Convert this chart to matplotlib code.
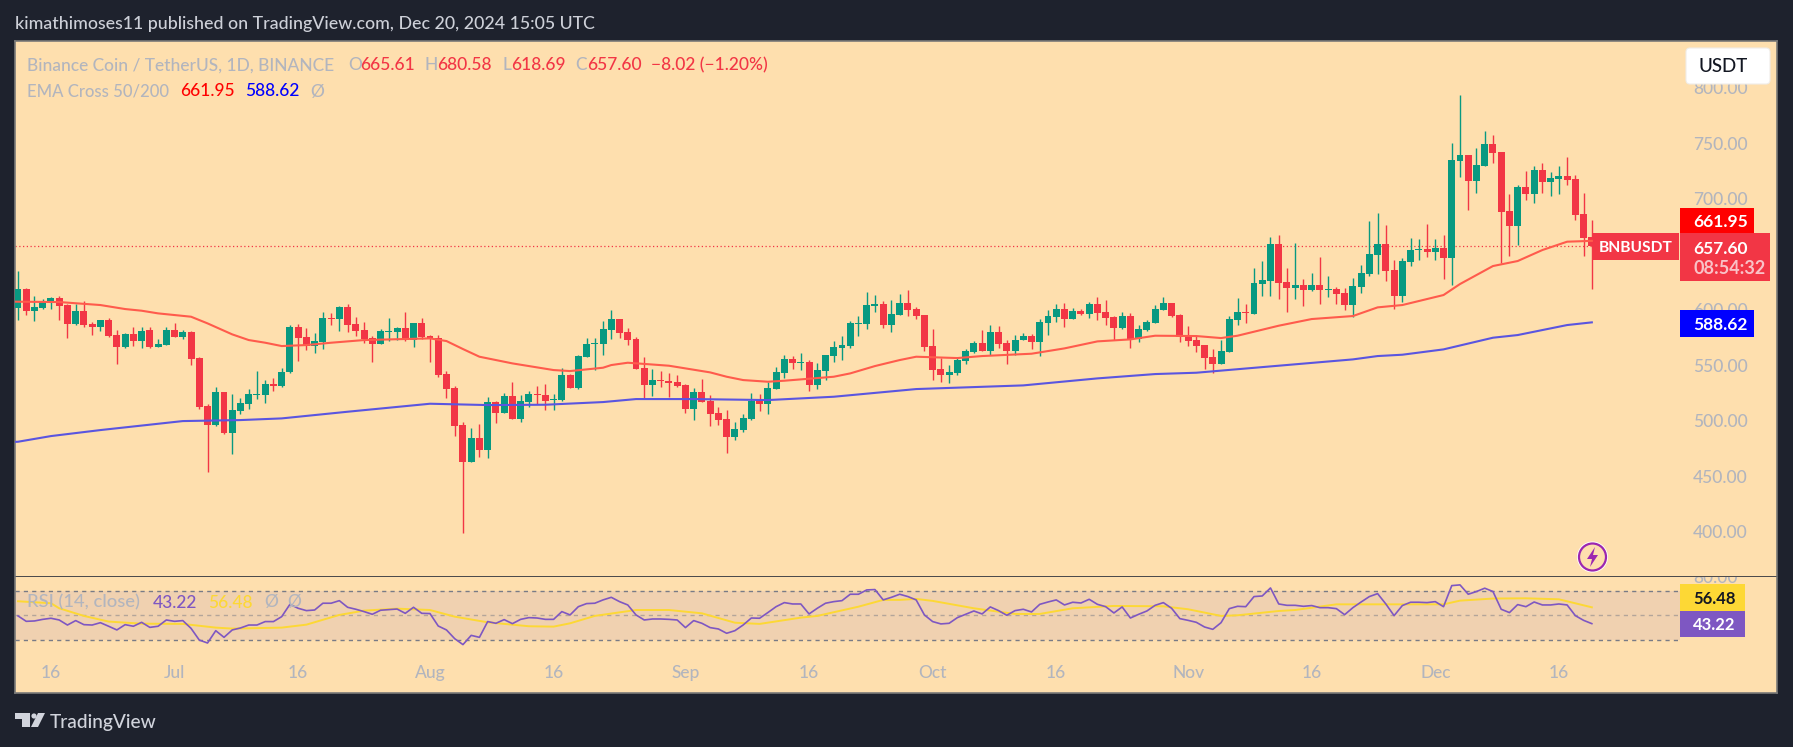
import numpy as np
import matplotlib
matplotlib.use("Agg")
import matplotlib.pyplot as plt
from matplotlib.patches import Rectangle, FancyBboxPatch, Circle, Polygon
from matplotlib.transforms import IdentityTransform

W = 1793; H = 747
FONT = "Lato"
plt.rcParams['font.family'] = [FONT, 'DejaVu Sans']
plt.rcParams['font.weight'] = 500

# Daily candles, first one is Jun 12 2024
opens = [601.5,618.6,598.8,601.5,606.9,610.5,604.2,587.1,598.8,587.1,
    584.4,590.7,577.2,566.4,578.1,571.8,581.7,566.4,568.2,581.7,
    575.4,579.9,556.5,513.3,496.2,525.9,489.0,508.8,515.1,523.2,
    523.2,533.1,531.3,543.9,584.4,575.4,567.3,570.9,592.5,591.6,
    602.4,587.1,581.7,574.5,569.1,579.9,579.9,583.5,572.7,588.0,
    576.3,574.5,542.1,529.5,496.2,462.9,484.5,473.7,516.9,507.0,
    522.3,501.6,516.9,524.1,523.2,518.7,518.7,541.2,529.5,557.4,
    569.1,569.1,581.7,591.6,579.9,573.6,547.5,532.2,536.7,535.8,
    534.9,532.2,510.6,525.9,517.8,507.0,501.6,485.4,491.7,501.6,
    517.8,515.1,528.6,543.0,555.6,552.0,552.9,532.2,544.8,558.3,
    565.5,567.3,587.1,587.1,603.3,605.1,586.2,595.2,606.0,600.6,
    595.2,567.3,546.6,541.2,543.0,553.8,561.9,570.0,562.8,579.9,
    570.0,562.8,572.7,576.3,570.9,588.0,593.4,600.6,591.6,598.8,
    596.1,605.1,597.9,593.4,583.5,594.3,573.6,581.7,588.0,599.7,
    606.0,595.2,576.3,572.7,568.2,557.4,551.1,561.9,590.7,597.9,
    596.1,623.1,625.8,659.1,624.9,619.5,622.2,617.7,622.2,617.7,
    618.6,615.0,604.2,620.4,632.1,649.2,659.1,635.7,612.3,642.9,
    653.7,654.6,651.9,655.5,646.5,733.8,739.2,715.8,729.3,749.1,
    741.9,688.8,675.3,710.4,704.1,725.7,714.9,717.6,720.3,717.6,686.1,665.61]
highs = [634.8,619.5,612.3,609.6,611.4,612.3,605.1,605.1,607.8,588.9,
    590.7,592.5,581.7,579.0,584.4,584.4,584.4,573.6,584.4,588.0,
    581.7,580.8,557.4,515.1,530.4,525.9,524.1,520.5,528.6,544.8,
    536.7,538.5,547.5,586.2,587.1,583.5,579.0,597.9,597.0,603.3,
    605.1,593.4,588.9,576.3,582.6,592.5,584.4,597.9,588.0,592.5,
    577.2,577.2,544.8,531.3,498.9,493.5,497.1,521.4,517.8,525.0,
    534.9,523.2,526.8,531.3,533.1,524.1,547.5,542.1,559.2,574.5,
    574.5,589.8,599.7,591.6,583.5,575.4,557.4,546.6,544.8,543.0,
    541.2,533.1,529.5,537.6,523.2,512.4,509.7,498.9,506.1,525.0,
    524.1,534.9,548.4,559.2,558.3,561.0,554.7,552.0,559.2,571.8,
    576.3,589.8,594.3,615.9,613.2,607.8,608.7,614.1,617.7,602.4,
    595.2,582.6,556.5,550.2,557.4,564.6,571.8,581.7,586.2,585.3,
    572.7,577.2,579.0,578.1,591.6,599.7,605.1,606.0,601.5,600.6,
    606.9,611.4,608.7,594.3,597.9,597.0,586.2,590.7,604.2,611.4,
    606.0,596.1,585.3,576.3,568.2,564.6,572.7,594.3,610.5,605.1,
    637.5,643.8,665.4,667.2,637.5,660.0,627.6,633.0,647.4,630.3,
    620.4,619.5,628.5,640.2,679.8,687.0,676.2,644.7,646.5,664.5,
    663.6,677.1,663.6,667.2,750.0,793.2,739.2,745.5,760.8,757.2,
    741.9,704.1,712.2,724.8,729.3,732.0,723.9,729.3,737.4,721.2,705.0,680.58]
lows = [590.7,595.2,589.8,600.6,600.6,590.7,574.5,586.2,584.4,577.2,
    580.8,575.4,551.1,565.5,567.3,565.5,565.5,566.4,568.2,575.4,
    573.6,550.2,510.6,453.9,495.3,488.1,470.1,506.1,510.6,519.6,
    516.0,526.8,530.4,543.0,553.8,563.7,561.0,564.6,586.2,580.8,
    579.9,576.3,570.0,552.9,569.1,571.8,572.7,571.8,566.4,573.6,
    552.9,539.4,520.5,486.3,399.0,462.9,467.4,466.5,498.0,507.0,
    501.6,498.9,512.4,515.1,509.7,509.7,517.8,529.5,528.6,557.4,
    545.7,559.2,573.6,574.5,568.2,546.6,519.6,522.3,530.4,521.4,
    530.4,507.0,500.7,516.9,495.3,496.2,471.0,482.7,489.9,500.7,
    508.8,506.1,528.6,538.5,546.6,545.7,526.8,528.6,536.7,552.9,
    554.7,565.5,576.3,582.6,597.9,583.5,579.9,595.2,594.3,591.6,
    562.8,536.7,534.9,534.0,541.2,551.1,561.0,562.8,559.2,565.5,
    551.1,559.2,572.7,564.6,558.3,577.2,588.9,584.4,591.6,595.2,
    592.5,590.7,586.2,572.7,582.6,565.5,570.9,580.8,588.0,599.7,
    593.4,570.9,567.3,561.9,546.6,543.0,551.1,561.9,586.2,588.0,
    596.1,612.3,612.3,609.6,597.9,609.6,603.3,616.8,605.1,611.4,
    605.1,599.7,593.4,615.0,630.3,632.1,625.8,600.6,606.9,639.3,
    644.7,647.4,644.7,627.6,622.2,719.4,689.7,705.0,729.3,732.0,
    642.0,648.3,658.2,698.7,696.0,705.0,702.3,704.1,712.2,680.7,648.3,618.69]
closes = [618.6,598.8,602.4,607.8,610.5,603.3,587.1,598.8,586.2,584.4,
    590.7,576.3,566.4,578.1,571.8,580.8,566.4,569.1,581.7,575.4,
    579.9,555.6,512.4,496.2,525.9,489.0,509.7,516.0,524.1,524.1,
    533.1,531.3,543.9,584.4,574.5,567.3,571.8,592.5,591.6,602.4,
    586.2,580.8,573.6,569.1,580.8,580.8,583.5,572.7,588.0,575.4,
    573.6,541.2,528.6,495.3,462.9,484.5,473.7,516.9,507.0,522.3,
    501.6,517.8,524.1,523.2,517.8,519.6,541.2,529.5,558.3,569.1,
    570.0,582.6,591.6,579.0,572.7,546.6,532.2,536.7,535.8,534.0,
    531.3,510.6,525.9,516.9,506.1,500.7,485.4,492.6,502.5,517.8,
    515.1,529.5,543.9,555.6,552.0,552.9,532.2,545.7,559.2,566.4,
    568.2,588.0,588.0,604.2,605.1,586.2,596.1,606.0,599.7,594.3,
    566.4,545.7,541.2,543.9,554.7,562.8,570.0,562.8,579.9,569.1,
    562.8,572.7,576.3,570.9,588.9,594.3,600.6,591.6,598.8,596.1,
    605.1,597.0,592.5,583.5,594.3,573.6,582.6,588.9,600.6,606.0,
    594.3,575.4,571.8,567.3,556.5,551.1,562.8,591.6,597.9,597.0,
    624.0,626.7,659.1,624.0,619.5,622.2,617.7,622.2,617.7,618.6,
    614.1,604.2,621.3,633.0,650.1,659.1,634.8,612.3,643.8,653.7,
    654.6,651.9,655.5,646.5,734.7,739.2,715.8,730.2,749.1,741.0,
    687.9,675.3,710.4,704.1,725.7,714.9,718.5,720.3,716.7,685.2,664.5,657.60]

# EMA lines, read at the turning points only (day number, value)
ema50_days = [-1,0,5,10,13,15,17,21,23,26,28,30,32,35,38,42,50,52,54,56,58,60,63,65,67,71,72,74,79,84,86,88,
    91,93,96,99,101,104,107,109,114,117,123,127,131,135,138,143,146,148,153,157,162,165,168,173,175,179,182,185,188,191]
ema50_vals = [607.3,607.2,606.9,604.2,600.6,599.1,596.7,593.7,587.7,577.8,572.7,570.3,567.3,568.2,570.3,572.7,
    574.2,571.8,564.6,557.7,554.7,551.7,548.1,545.7,544.8,547.8,550.2,552.3,549.6,543.6,539.7,536.7,
    535.2,536.1,537.9,539.7,542.7,549.3,554.7,557.7,556.5,558.3,560.4,565.2,571.5,573.3,576.6,576.3,574.5,
    576.6,585.6,591.6,594.3,602.1,604.2,613.2,623.1,639.3,643.8,653.7,661.2,661.95]
ema200_days = [-1,0,4,10,20,27,32,40,50,57,64,71,75,82,91,99,109,122,131,138,143,162,165,168,173,179,182,188,191]
ema200_vals = [480.9,481.2,486.3,491.7,499.8,500.7,502.2,508.2,515.4,514.2,514.5,516.9,519.6,519.6,518.7,
    521.7,528.6,531.9,538.2,542.1,543.3,555.3,558.3,559.5,564.3,574.8,577.2,586.2,588.62]

rsi = [49.5,45.1,45.4,46.7,47.6,46.2,42.1,45.7,42.4,42.1,
    44.0,41.1,38.1,42.4,41.1,44.3,40.2,41.1,46.2,45.1,
    45.7,39.4,29.9,27.5,37.5,32.1,38.1,39.7,42.1,42.1,
    44.9,44.9,48.9,58.9,55.7,53.8,54.3,59.8,59.8,61.9,
    56.5,54.9,53.0,50.8,54.1,54.6,55.1,51.6,56.5,51.6,
    51.4,41.3,38.1,31.0,26.2,33.7,32.1,44.9,43.5,46.5,
    43.2,46.7,48.1,47.8,46.7,46.7,53.0,50.3,57.0,59.5,
    59.8,62.5,64.6,61.1,58.4,50.3,46.2,47.0,47.0,46.7,
    46.2,40.0,45.7,43.5,40.0,38.9,35.4,37.5,42.1,47.8,
    47.6,52.2,57.0,60.3,59.2,59.2,51.1,55.7,59.8,61.1,
    61.9,67.1,67.1,70.6,70.9,62.5,64.6,67.1,65.2,62.5,
    50.3,44.9,43.0,43.5,48.1,50.8,53.5,51.1,56.8,53.8,
    50.0,53.8,54.9,52.7,58.9,60.8,62.5,58.4,60.6,60.0,
    63.0,58.9,57.0,51.9,56.8,47.8,50.8,53.5,58.1,60.3,
    55.7,47.3,45.9,44.3,40.5,38.6,44.0,55.4,57.3,57.0,
    65.2,65.7,72.2,59.2,58.1,58.1,57.3,57.9,56.2,56.2,
    55.4,50.5,56.2,60.8,65.2,67.6,59.2,49.7,57.9,60.6,
    60.6,60.3,61.1,57.0,74.1,74.7,67.1,69.3,72.0,69.3,
    54.9,52.2,58.7,57.0,60.8,58.4,58.4,59.2,58.4,49.7,45.9,43.22]
rsi_ma_days = [0,4,5,8,11,15,20,24,26,32,35,39,42,46,50,53,57,62,65,67,70,75,79,83,87,90,95,97,102,105,
    107,109,111,116,121,124,128,133,139,142,146,148,153,155,160,166,173,175,179,183,187,191]
rsi_ma_vals = [61.4,59.8,55.7,49.5,44.9,43.2,43.0,40.0,39.2,40.0,42.4,50.3,53.8,55.4,54.3,48.9,44.3,41.1,
    40.8,43.5,49.5,54.3,54.3,51.6,44.0,43.0,48.1,49.5,57.0,62.5,62.5,63.3,61.7,55.7,51.1,51.1,55.7,57.6,
    57.3,54.9,49.5,50.0,53.5,54.3,58.9,58.9,58.9,61.9,63.6,63.8,63.0,56.48]

price_ticks = [400,450,500,550,600,650,700,750,800]
time_ticks = [4,19,34,50,65,81,96,111,126,142,157,172,187]
time_labels = ['16','Jul','16','Aug','16','Sep','16','Oct','16','Nov','16','Dec','16']

BG = '#FEDFAE'
DARK = '#1E222D'
GREY = '#B2B5BE'
GREEN = '#089981'
RED = '#F23645'


def axes_px(x0, y0, x1, y1):
    return [x0/W, 1-y1/H, (x1-x0)/W, (y1-y0)/H]


def label(x, y, s, color=GREY, size=12, ha='left', **kw):
    fig.text(x/W, 1-y/H, s, color=color, fontsize=size, ha=ha, va='center_baseline', **kw)


def box(x0, y0, x1, y1, color):
    fig.add_artist(Rectangle((x0, H-y1), x1-x0, y1-y0, transform=IdentityTransform(),
                             facecolor=color, edgecolor='none', zorder=2))


fig = plt.figure(figsize=(W/100, H/100), dpi=100, facecolor=DARK)
ax = fig.add_axes(axes_px(15, 41, 1777, 577), facecolor=BG)
ax2 = fig.add_axes(axes_px(15, 577, 1777, 693), facecolor=BG, sharex=ax)

# x: 8.24 px per day, first candle centred at px 18
days = np.arange(len(opens))
xlim = ((15-18)/8.24, (1777-18)/8.24)

opens = np.array(opens); closes = np.array(closes)
colors = np.where(closes >= opens, GREEN, RED)
ax.vlines(days, lows, highs, colors=colors, linewidth=1.0, zorder=3)
ax.bar(days, np.abs(closes-opens), bottom=np.minimum(opens, closes), width=0.84,
       color=colors, linewidth=0, zorder=3)
ax.plot(ema50_days, ema50_vals, color='#FF5B4C', linewidth=1.5, zorder=4)
ax.plot(ema200_days, ema200_vals, color='#5A55E0', linewidth=1.5, zorder=4)
ax.hlines(closes[-1], xlim[0], days[-1], colors=RED, linewidth=0.9, linestyles=(0, (1, 2)), zorder=2)

ax.set_xlim(xlim)
# y: 750 at px 143, 1.1114 px per unit
ax.set_ylim(750-(577-143)/1.1114, 750+(143-41)/1.1114)
ax.yaxis.tick_right()
ax.set_yticks(price_ticks)
ax.set_yticklabels(['%.2f' % p for p in price_ticks])
ax.tick_params(axis='y', length=0, pad=-84*0.72, labelcolor=GREY, labelsize=12.5)
for t in ax.get_yticklabels():
    t.set_ha('left')
ax.tick_params(axis='x', length=0, labelbottom=False)

# RSI pane, also holds the time labels
ax2.axhspan(30, 70, xmin=0, xmax=0.945, color='#7E57C2', alpha=0.1, linewidth=0)
for lvl, a in [(70, 1), (50, 0.5), (30, 1)]:
    ax2.hlines(lvl, xlim[0], (1680-18)/8.24, colors='#787B86', linewidth=1.0,
               linestyles=(0, (3, 3)), alpha=a)
ax2.plot(rsi_ma_days, rsi_ma_vals, color='#FDD835', linewidth=1.4, zorder=3)
ax2.plot(days[:len(rsi)], rsi, color='#7E57C2', linewidth=1.2, zorder=4)
ax2.set_ylim(-13.1, 81.1)
ax2.set_yticks([])
ax2.set_xticks(time_ticks)
ax2.set_xticklabels(time_labels)
ax2.tick_params(axis='x', length=0, pad=-28*0.72, labelcolor=GREY, labelsize=12.5)
ax2.text((1693-15)/(1777-15), 80, '80.00', color=GREY, fontsize=12.5, va='center', ha='left',
         transform=ax2.get_yaxis_transform(), clip_on=True)

for a in (ax, ax2):
    for s in a.spines.values():
        s.set_color('#7A7A78')
        s.set_linewidth(1.2)
ax.spines['bottom'].set_color('#2A2E39')
ax2.spines['top'].set_visible(False)

# header and legends
label(15, 23, 'kimathimoses11 published on TradingView.com, Dec 20, 2024 15:05 UTC', color='#CDD0D8', size=12.8)
label(27, 64, 'Binance Coin / TetherUS, 1D, BINANCE', size=12.5)
for x, s in [(348, 'O'), (425, 'H'), (502, 'L'), (575, 'C')]:
    label(x, 64, s, size=12.5)
for x, s in [(360, '665.61'), (437, '680.58'), (511, '618.69'), (587, '657.60'), (651, '\u22128.02 (\u22121.20%)')]:
    label(x, 64, s, color=RED, size=12.5)
label(27, 90, 'EMA Cross 50/200', size=12)
label(180, 90, '661.95', color='#FF0000', size=12.5)
label(245, 90, '588.62', color='#0000FF', size=12.5)
label(310, 90, '\u00d8', size=12.5)
label(27, 601, 'RSI (14, close)', size=13.2)
label(153, 601, '43.22', color='#7E57C2', size=12.5)
label(208, 601, '56.48', color='#FDD835', size=12.5)
label(264, 601, '\u00d8', size=12.5)
label(287, 601, '\u00d8', size=12.5)

# price scale tags
box(1680, 208, 1754, 233, '#FF0000')
label(1693, 220.5, '661.95', color='white', size=12.5, weight='bold')
box(1592.5, 233, 1679, 260, RED)
label(1636, 246.5, 'BNBUSDT', color='white', size=11.2, ha='center', weight='bold')
box(1680, 233, 1770, 281, RED)
label(1693, 247, '657.60', color='white', size=12.5, weight='bold')
label(1693, 267, '08:54:32', color='#F9C2C7', size=13, weight='bold')
box(1680, 310, 1754, 337, '#0000FF')
label(1693, 323.5, '588.62', color='white', size=12.5, weight='bold')
box(1680, 584, 1745, 611, '#FDD835')
label(1693, 597.5, '56.48', color='#131722', size=12, weight='bold')
box(1680, 611, 1745, 637, '#7E57C2')
label(1693, 624, '43.22', color='white', size=12, weight='bold')

fig.add_artist(FancyBboxPatch((1688, H-82), 80, 32, boxstyle='round,pad=2,rounding_size=4',
                              transform=IdentityTransform(), facecolor='white',
                              edgecolor='#F0EDE8', linewidth=0.8, zorder=2))
label(1723, 65.5, 'USDT', color='#131722', size=13.5, ha='center')

# lightning icon
fig.add_artist(Circle((1592.5, H-557), 15.5, transform=IdentityTransform(), facecolor='white',
                      edgecolor='none', zorder=2))
fig.add_artist(Circle((1592.5, H-557), 13.5, transform=IdentityTransform(), facecolor=BG,
                      edgecolor='#9C27B0', linewidth=1.6, zorder=2))
bolt = [(1595, 547), (1587, 559), (1592, 559), (1590, 567), (1598, 555), (1593, 555)]
fig.add_artist(Polygon([(x, H-y) for x, y in bolt], transform=IdentityTransform(),
                       facecolor='#9C27B0', edgecolor='none', zorder=2))

# TradingView logo
logo_t = [(15, 713), (30, 713), (30, 727), (22, 727), (22, 719), (15, 719)]
logo_v = [(38, 713), (45, 713), (38, 727), (31, 727)]
for shape in (logo_t, logo_v):
    fig.add_artist(Polygon([(x, H-y) for x, y in shape], transform=IdentityTransform(),
                           facecolor='#D1D4DC', edgecolor='none'))
fig.add_artist(Circle((34, H-716), 2.6, transform=IdentityTransform(), facecolor='#D1D4DC', edgecolor='none'))
label(50, 721, 'TradingView', color='#D1D4DC', size=13.8)

fig.savefig('out.png', dpi=100, facecolor=DARK)
